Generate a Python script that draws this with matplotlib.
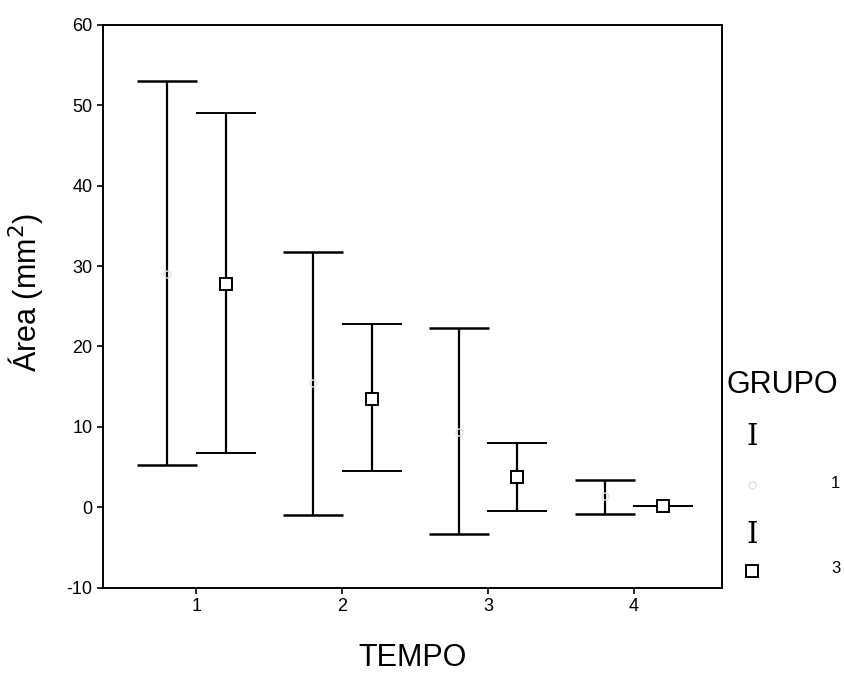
import numpy as np
import matplotlib.pyplot as plt

plt.rcParams['font.family'] = ['Liberation Sans', 'DejaVu Sans']
plt.rcParams['axes.unicode_minus'] = False

tempo = np.array([1, 2, 3, 4])

# GRUPO 1: media e limites do intervalo
g1_mean = np.array([29.0, 15.5, 9.4, 1.4])
g1_low = np.array([5.3, -1.0, -3.3, -0.8])
g1_high = np.array([53.0, 31.8, 22.3, 3.4])

# GRUPO 3
g3_mean = np.array([27.8, 13.5, 3.8, 0.2])
g3_low = np.array([6.8, 4.5, -0.5, 0.2])
g3_high = np.array([49.0, 22.8, 8.0, 0.2])

fig = plt.figure(figsize=(8.45, 6.89), dpi=100)
ax = fig.add_axes([0.122, 0.147, 0.732, 0.817])

ax.errorbar(tempo - 0.2, g1_mean, yerr=[g1_mean - g1_low, g1_high - g1_mean],
            fmt='o', color='black', ecolor='black', elinewidth=1.6,
            capsize=21.5, capthick=1.8, markersize=5,
            markerfacecolor='none', markeredgecolor='#e0e0e0', zorder=3)
ax.errorbar(tempo + 0.2, g3_mean, yerr=[g3_mean - g3_low, g3_high - g3_mean],
            fmt='s', color='black', ecolor='black', elinewidth=1.6,
            capsize=21.5, capthick=1.8, markersize=8,
            markerfacecolor='white', markeredgecolor='black',
            markeredgewidth=1.4, zorder=4)

ax.set_xlim(0.36, 4.6)
ax.set_ylim(-10, 60)
ax.set_xticks(tempo)
ax.set_yticks(np.arange(-10, 61, 10))
ax.tick_params(direction='out', length=4, width=1.2, labelsize=13)
for s in ax.spines.values():
    s.set_linewidth(1.4)

ax.set_xlabel('TEMPO', fontsize=22, labelpad=20)
ax.set_ylabel('Área (mm$^2$)', fontsize=22)
ax.yaxis.set_label_coords(-0.094, 0.525)

# legenda
fig.text(0.860, 0.441, 'GRUPO', fontsize=22, ha='left', va='center')
fig.text(0.890, 0.366, 'I', fontsize=21, family='DejaVu Serif', ha='center', va='center')
fig.text(0.890, 0.224, 'I', fontsize=21, family='DejaVu Serif', ha='center', va='center')
lax = fig.add_axes([0.86, 0.1, 0.14, 0.3])
lax.set_xlim(0, 1)
lax.set_ylim(0, 1)
lax.axis('off')
lax.plot([0.21], [0.654], 'o', markersize=5, markerfacecolor='none',
         markeredgecolor='#e0e0e0')
lax.plot([0.21], [0.238], 's', markersize=8, markerfacecolor='white',
         markeredgecolor='black', markeredgewidth=1.4)
lax.text(0.92, 0.66, '1', fontsize=12, ha='center', va='center')
lax.text(0.92, 0.25, '3', fontsize=12, ha='center', va='center')

fig.savefig('out.png', dpi=100)
